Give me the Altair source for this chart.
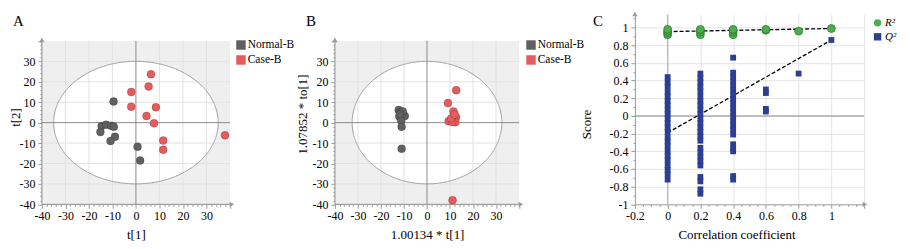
import altair as alt
import numpy as np
import pandas as pd

FONT = "Liberation Serif"
AXIS_GRAY = "#9a9a9a"
GRID = "#e2e2e2"

# ---------------- data ----------------
groups = ["Normal-B", "Case-B"]
group_colors = ["#606060", "#e85b5d"]

# Panel A: PCA scores t[1], t[2]
a_normal_t1 = [-9.5, -14.6, -12.7, -10.6, -9.4, -15.1, -8.9, -10.8, 0.7, 1.8]
a_normal_t2 = [10.3, -1.6, -1.0, -1.5, -2.0, -4.6, -6.9, -9.0, -11.8, -18.5]
a_case_t1 = [6.4, 5.4, -2.0, -2.0, 8.5, 4.5, 7.7, 11.6, 11.6, 37.9]
a_case_t2 = [23.7, 17.7, 15.0, 7.8, 7.5, 3.3, -0.3, -8.8, -13.3, -6.2]

# Panel B: OPLS-DA scores
b_normal_t1 = [-12.3, -11.6, -10.4, -12.0, -9.6, -11.2, -10.5, -11.8, -11.0, -11.0]
b_normal_t2 = [6.2, 5.0, 4.0, 3.0, 3.2, 1.0, 5.5, 4.0, -2.0, -12.8]
b_case_t1 = [12.7, 9.1, 11.5, 12.6, 9.4, 12.3, 11.0, 10.5, 12.0, 11.1]
b_case_t2 = [15.9, 9.6, 5.5, 2.6, 0.7, 0.2, 0.3, 2.0, 4.0, -38.0]

# Panel C: permutation test
series = ["R\u00b2", "Q\u00b2"]
series_colors = ["#4cae4c", "#2c3f93"]
r2_x = [0, 0, 0, 0, 0.2, 0.2, 0.2, 0.2, 0.4, 0.4, 0.4, 0.4, 0.6, 0.6, 0.8, 1.0]
r2_y = [0.92, 0.94, 0.96, 0.98, 0.92, 0.95, 0.97, 0.98, 0.92, 0.95, 0.97, 0.98, 0.97, 0.98, 0.96, 0.99]
q2_at_0 = [0.44, 0.38, 0.33, 0.27, 0.22, 0.17, 0.12, 0.07, 0.02, -0.03, -0.08, -0.13,
           -0.18, -0.24, -0.29, -0.34, -0.40, -0.45, -0.50, -0.56, -0.61, -0.66, -0.72]
q2_at_02 = [0.48, 0.43, 0.38, 0.33, 0.28, 0.22, 0.17, 0.12, 0.07, 0.02, -0.03, -0.08,
            -0.13, -0.18, -0.23, -0.28, -0.36, -0.41, -0.46, -0.51, -0.56, -0.69, -0.74,
            -0.83, -0.88]
q2_at_04 = [0.66, 0.49, 0.44, 0.39, 0.34, 0.29, 0.24, 0.19, 0.14, 0.09, 0.04, -0.01,
            -0.06, -0.11, -0.16, -0.21, -0.32, -0.37, -0.40, -0.68, -0.72]
q2_at_06 = [0.30, 0.26, 0.08, 0.05]
q2_at_08 = [0.48]
q2_at_1 = [0.86]
r2_line_x = [0.0, 1.0]
r2_line_y = [0.955, 0.99]
q2_line_x = [0.0, 1.0]
q2_line_y = [-0.19, 0.86]


# ---------------- helpers ----------------
def score_panel(n1, n2, c1, c2, xmax, width, rx, ry, letter, xtitle, ytitle,
                xtitle_x, ytitle_x, ytitle_y, legend_x):
    height = 190.6
    ytop = 53.0
    xs = alt.Scale(domain=[-40, xmax], nice=False, zero=False)
    ys = alt.Scale(domain=[-40, ytop], nice=False, zero=False)
    ticks = list(range(-40, 41, 2))
    tick_size = {"condition": {"test": "datum.value % 10 == 0", "value": 4}, "value": 2}
    common = dict(domain=False, grid=False, labelFont=FONT, labelFontSize=12, labelColor="black",
                  tickColor=AXIS_GRAY, labelOverlap=False, labelFlush=False, labelBound=False,
                  titleFont=FONT, titleFontSize=13, titleFontWeight="normal", titleColor="black",
                  titleAlign="center", titleBaseline="middle")
    xaxis = alt.Axis(values=ticks, tickSize=tick_size, labelPadding=2,
                     labelExpr="datum.value % 10 == 0 && datum.value < 40 ? '' + datum.value : ''",
                     titleX=xtitle_x, titleY=30, **common)
    yaxis = alt.Axis(values=ticks, tickSize=tick_size, labelPadding=3,
                     labelExpr="datum.value % 10 == 0 && datum.value < 40 ? '' + datum.value : ''",
                     titleX=ytitle_x, titleY=ytitle_y, titleAngle=270, **common)

    def X(f):
        return alt.X(f, type="quantitative", scale=xs, axis=xaxis, title=xtitle)

    def Y(f):
        return alt.Y(f, type="quantitative", scale=ys, axis=yaxis, title=ytitle)

    bg = alt.Chart(pd.DataFrame({"x": [-40], "x2": [40], "y": [-40], "y2": [40]})).mark_rect(
        fill="#efefef").encode(x=X("x"), x2="x2", y=Y("y"), y2="y2")

    ex = np.linspace(-rx, rx, 241)
    eh = ry * np.sqrt(np.clip(1 - (ex / rx) ** 2, 0, None))
    ell_fill = alt.Chart(pd.DataFrame({"x": ex, "lo": -eh, "hi": eh})).mark_area(
        color="white").encode(x=X("x"), y=Y("lo"), y2="hi")

    grid_vals = [-30, -20, -10, 10, 20, 30]
    vgrid = alt.Chart(pd.DataFrame({"x": grid_vals, "y": [-40] * 6, "y2": [40] * 6})).mark_rule(
        color=GRID, strokeWidth=1).encode(x=X("x"), y=Y("y"), y2="y2")
    hgrid = alt.Chart(pd.DataFrame({"y": grid_vals, "x": [-40] * 6, "x2": [40] * 6})).mark_rule(
        color=GRID, strokeWidth=1).encode(y=Y("y"), x=X("x"), x2="x2")

    ang = np.linspace(0, 2 * np.pi, 361)
    ell_line = alt.Chart(pd.DataFrame({"x": rx * np.cos(ang), "y": ry * np.sin(ang),
                                       "o": np.arange(361)})).mark_line(
        color="#a0a0a0", strokeWidth=1).encode(x=X("x"), y=Y("y"), order="o:Q")

    zero_v = alt.Chart(pd.DataFrame({"x": [0, -40], "y": [-40, -40], "y2": [40, 40]})).mark_rule(
        color="#8c8c8c", strokeWidth=1).encode(x=X("x"), y=Y("y"), y2="y2")
    zero_h = alt.Chart(pd.DataFrame({"y": [0, -40], "x": [-40, -40], "x2": [40, 40]})).mark_rule(
        color="#8c8c8c", strokeWidth=1).encode(y=Y("y"), x=X("x"), x2="x2")

    arr_up = alt.Chart(pd.DataFrame({"x": [-40], "y": [40.5]})).mark_point(
        shape="triangle-up", filled=True, size=28, color=AXIS_GRAY, opacity=1).encode(x=X("x"), y=Y("y"))
    arr_right = alt.Chart(pd.DataFrame({"x": [40.8], "y": [-40]})).mark_point(
        shape="triangle-right", filled=True, size=28, color=AXIS_GRAY, opacity=1).encode(x=X("x"), y=Y("y"))

    pts = pd.DataFrame({"x": n1 + c1, "y": n2 + c2,
                        "group": [groups[0]] * len(n1) + [groups[1]] * len(c1)})
    points = alt.Chart(pts).mark_circle(size=64, opacity=1, stroke="black", strokeOpacity=0.22,
                                        strokeWidth=0.8).encode(
        x=X("x"), y=Y("y"),
        color=alt.Color("group:N", scale=alt.Scale(domain=groups, range=group_colors),
                        legend=alt.Legend(orient="none", legendX=legend_x, legendY=25, title=None,
                                          symbolType="square", symbolSize=90, symbolStrokeWidth=0,
                                          labelFont=FONT, labelFontSize=11.5, labelColor="black",
                                          labelOffset=1, rowPadding=2, padding=0)))

    letter_t = alt.Chart(pd.DataFrame({"t": [letter]})).mark_text(
        font=FONT, fontSize=15, align="left", baseline="alphabetic", color="black").encode(
        text="t:N", x=alt.value(-29), y=alt.value(12))

    return alt.layer(bg, ell_fill, vgrid, hgrid, ell_line, zero_v, zero_h, arr_up, arr_right,
                     points, letter_t).properties(width=width, height=height)


panel_a = score_panel(a_normal_t1, a_normal_t2, a_case_t1, a_case_t2, 40, 188.7, 35, 30, "A",
                      "t[1]", "t[2]", 94.3, -26, 103, 194)
panel_b = score_panel(b_normal_t1, b_normal_t2, b_case_t1, b_case_t2, 44.6, 195.4, 32.5, 30, "B",
                      "1.00134 * t[1]", "1.07852 * to[1]", 92.5, -32, 100, 191)

# ---------------- panel C ----------------
cxs = alt.Scale(domain=[-0.2, 1.2], nice=False, zero=False)
cys = alt.Scale(domain=[-1, 1.15], nice=False, zero=False)
cx_ticks = [round(-0.2 + 0.05 * i, 2) for i in range(29)]
cy_ticks = [round(-1 + 0.1 * i, 1) for i in range(22)]
ccommon = dict(domain=True, domainColor=AXIS_GRAY, grid=True, gridColor="#e4e4e4",
               labelFont=FONT, labelFontSize=12, labelColor="black", tickColor=AXIS_GRAY,
               labelOverlap=False, labelFlush=False, labelBound=False,
               titleFont=FONT, titleFontSize=13, titleFontWeight="normal", titleColor="black",
               titleAlign="center", titleBaseline="middle")
cx_axis = alt.Axis(values=cx_ticks,
                   tickSize={"condition": {"test": "round(datum.value*20) % 4 == 0", "value": 4}, "value": 2},
                   gridOpacity={"condition": {"test": "round(datum.value*20) % 4 == 0 && datum.value > -0.1", "value": 1}, "value": 0},
                   labelExpr="round(datum.value*20) % 4 == 0 && datum.value < 1.05 ? '' + round(datum.value*10)/10 : ''",
                   labelPadding=2, titleX=102, titleY=30, **ccommon)
cy_axis = alt.Axis(values=cy_ticks,
                   tickSize={"condition": {"test": "round(datum.value*10) % 2 == 0", "value": 4}, "value": 2},
                   gridOpacity={"condition": {"test": "round(datum.value*10) % 2 == 0 && datum.value > -0.95", "value": 1}, "value": 0},
                   labelExpr="round(datum.value*10) % 2 == 0 && datum.value < 1.05 ? '' + round(datum.value*10)/10 : ''",
                   labelPadding=3, titleX=-49, titleY=110, titleAngle=270, **ccommon)


def CX(f):
    return alt.X(f, type="quantitative", scale=cxs, axis=cx_axis, title="Correlation coefficient")


def CY(f):
    return alt.Y(f, type="quantitative", scale=cys, axis=cy_axis, title="Score")


q2_x, q2_y = [], []
for xv, vals in [(0.0, q2_at_0), (0.2, q2_at_02), (0.4, q2_at_04), (0.6, q2_at_06),
                 (0.8, q2_at_08), (1.0, q2_at_1)]:
    q2_x += [xv] * len(vals)
    q2_y += vals

zero_c = alt.Chart(pd.DataFrame({"x": [-0.2], "x2": [1.2], "y": [0]})).mark_rule(
    color="#8c8c8c", strokeWidth=1).encode(x=CX("x"), x2="x2", y=CY("y"))
zero_cv = alt.Chart(pd.DataFrame({"x": [0], "y": [-1], "y2": [1.15]})).mark_rule(
    color="#b0b0b0", strokeWidth=1).encode(x=CX("x"), y=CY("y"), y2="y2")

c_arrows = alt.Chart(pd.DataFrame({"x": [-0.2, 1.205], "y": [1.155, -1],
                                   "s": ["triangle-up", "triangle-right"]})).mark_point(
    filled=True, size=28, color=AXIS_GRAY, opacity=1).encode(
    x=CX("x"), y=CY("y"), shape=alt.Shape("s:N", scale=None))

lines_df = pd.DataFrame({"x": r2_line_x + q2_line_x, "y": r2_line_y + q2_line_y,
                         "k": ["r2", "r2", "q2", "q2"]})
reg_lines = alt.Chart(lines_df).mark_line(color="black", strokeWidth=1.3, strokeDash=[4, 2]).encode(
    x=CX("x"), y=CY("y"), detail="k:N")

c_legend = alt.Legend(orient="none", legendX=238, legendY=3, title=None, symbolSize=55,
                      labelFont=FONT, labelFontSize=11, labelFontStyle="italic", labelColor="black",
                      labelOffset=2, rowPadding=2, padding=0, symbolStrokeWidth=0)
c_color = alt.Color("series:N", scale=alt.Scale(domain=series, range=series_colors), legend=c_legend)
c_shape = alt.Shape("series:N", scale=alt.Scale(domain=series, range=["circle", "square"]), legend=c_legend)

q2_pts = alt.Chart(pd.DataFrame({"x": q2_x, "y": q2_y, "series": [series[1]] * len(q2_x)})).mark_point(
    filled=True, size=34, opacity=1).encode(x=CX("x"), y=CY("y"), color=c_color, shape=c_shape)
r2_pts = alt.Chart(pd.DataFrame({"x": r2_x, "y": r2_y, "series": [series[0]] * len(r2_x)})).mark_point(
    filled=True, size=62, opacity=1, stroke="#2f7f32", strokeWidth=0.8).encode(
    x=CX("x"), y=CY("y"), color=c_color, shape=c_shape)

letter_c = alt.Chart(pd.DataFrame({"t": ["C"]})).mark_text(
    font=FONT, fontSize=15, align="left", baseline="alphabetic", color="black").encode(
    text="t:N", x=alt.value(-42), y=alt.value(12))

panel_c = alt.layer(zero_c, zero_cv, c_arrows, reg_lines, q2_pts, r2_pts, letter_c).properties(
    width=230, height=190.6)

chart = alt.hconcat(panel_a, panel_b, panel_c, spacing=105, bounds="flush").resolve_scale(
    color="independent", shape="independent").resolve_legend(
    color="independent", shape="independent").properties(
    padding={"left": 2, "top": 3, "right": 5, "bottom": 2}, background="white").configure_view(stroke=None)

chart.save("out.html", embed_options={"renderer": "svg", "actions": False})
